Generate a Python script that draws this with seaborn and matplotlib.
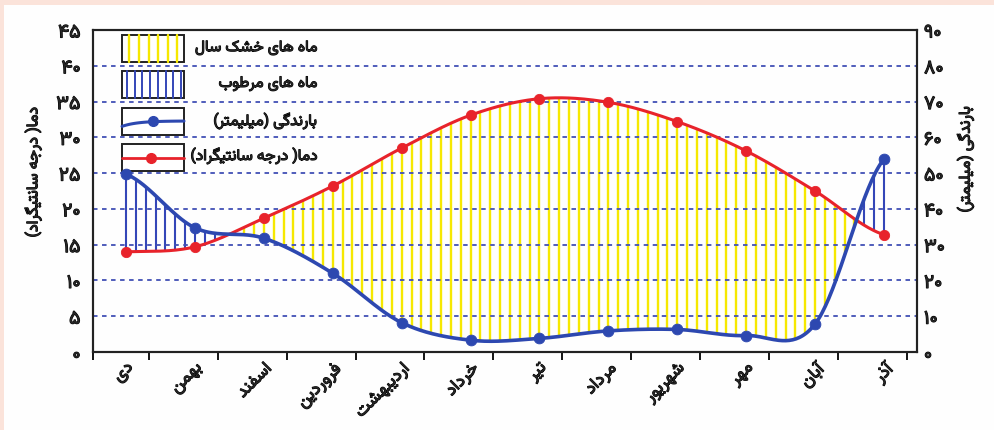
import numpy as np
import matplotlib
matplotlib.use("Agg")
import matplotlib.pyplot as plt
import matplotlib.patheffects as pe
from matplotlib.patches import Rectangle
import seaborn as sns

# monthly values (Persian calendar, starting at Dey)
months = ["دی", "بهمن", "اسفند", "فروردین", "اردیبهشت", "خرداد",
          "تیر", "مرداد", "شهریور", "مهر", "آبان", "آذر"]
temperature = [14.0, 14.7, 18.7, 23.2, 28.5, 33.1, 35.4, 34.9, 32.2, 28.1, 22.5, 16.4]
rainfall = [49.7, 34.7, 31.8, 22.0, 8.2, 3.3, 3.8, 5.9, 6.3, 4.6, 7.8, 53.9]
temp_ticks = list(range(0, 46, 5))
rain_ticks = list(range(0, 91, 10))
legend_labels = ["ماه های خشک سال", "ماه های مرطوب", "بارندگی (میلیمتر)", "دما( درجه سانتیگراد)"]
temp_label = "دما( درجه سانتیگراد)"
rain_label = "بارندگی (میلیمتر)"

# matplotlib has no arabic shaping: map letters to presentation forms, then reverse
FORMS = {
    "\u0622": ("\uFE81", "\uFE82", None, None),
    "\u0627": ("\uFE8D", "\uFE8E", None, None),
    "\u0628": ("\uFE8F", "\uFE90", "\uFE91", "\uFE92"),
    "\u062A": ("\uFE95", "\uFE96", "\uFE97", "\uFE98"),
    "\u062C": ("\uFE9D", "\uFE9E", "\uFE9F", "\uFEA0"),
    "\u062E": ("\uFEA5", "\uFEA6", "\uFEA7", "\uFEA8"),
    "\u062F": ("\uFEA9", "\uFEAA", None, None),
    "\u0630": ("\uFEAB", "\uFEAC", None, None),
    "\u0631": ("\uFEAD", "\uFEAE", None, None),
    "\u0632": ("\uFEAF", "\uFEB0", None, None),
    "\u0633": ("\uFEB1", "\uFEB2", "\uFEB3", "\uFEB4"),
    "\u0634": ("\uFEB5", "\uFEB6", "\uFEB7", "\uFEB8"),
    "\u0637": ("\uFEC1", "\uFEC2", "\uFEC3", "\uFEC4"),
    "\u0641": ("\uFED1", "\uFED2", "\uFED3", "\uFED4"),
    "\u0644": ("\uFEDD", "\uFEDE", "\uFEDF", "\uFEE0"),
    "\u0645": ("\uFEE1", "\uFEE2", "\uFEE3", "\uFEE4"),
    "\u0646": ("\uFEE5", "\uFEE6", "\uFEE7", "\uFEE8"),
    "\u0647": ("\uFEE9", "\uFEEA", "\uFEEB", "\uFEEC"),
    "\u0648": ("\uFEED", "\uFEEE", None, None),
    "\u06A9": ("\uFB8E", "\uFB8F", "\uFB90", "\uFB91"),
    "\u06AF": ("\uFB92", "\uFB93", "\uFB94", "\uFB95"),
    "\u06CC": ("\uFBFC", "\uFBFD", "\uFBFE", "\uFBFF"),
}


def fa(text):
    out = []
    for i, ch in enumerate(text):
        if ch not in FORMS:
            out.append(ch)
            continue
        iso, fin, ini, med = FORMS[ch]
        prev = text[i - 1] if i > 0 else ""
        nxt = text[i + 1] if i + 1 < len(text) else ""
        join_prev = prev in FORMS and FORMS[prev][2] is not None
        join_next = nxt in FORMS and ini is not None
        if join_prev and join_next:
            out.append(med)
        elif join_prev:
            out.append(fin)
        elif join_next:
            out.append(ini)
        else:
            out.append(iso)
    return "".join(reversed(out)).translate(str.maketrans("()", ")("))


def fa_num(v):
    return str(v).translate(str.maketrans("0123456789", "۰۱۲۳۴۵۶۷۸۹"))


def smooth(y, n=40):
    # catmull-rom through the monthly points, just for drawing the curve
    p = np.r_[y[0], y, y[-1]]
    xs, ys = [], []
    t = np.linspace(0, 1, n, endpoint=False)
    for i in range(len(y) - 1):
        p0, p1, p2, p3 = p[i], p[i + 1], p[i + 2], p[i + 3]
        ys.append(0.5 * (2 * p1 + (p2 - p0) * t + (2 * p0 - 5 * p1 + 4 * p2 - p3) * t ** 2
                         + (3 * p1 - p0 - 3 * p2 + p3) * t ** 3))
        xs.append(i + t)
    xs.append([len(y) - 1])
    ys.append([y[-1]])
    return np.concatenate(xs), np.concatenate(ys)


sns.set_theme(style="white")
plt.rcParams["font.family"] = ["Vazirmatn", "DejaVu Sans"]
bold = [pe.withStroke(linewidth=0.8, foreground="black")]

RED = "#e8232b"
BLUE = "#2d48b0"
YELLOW = "#f6e800"
HATCH_BLUE = "#3446b8"
GRID = "#4150b5"

fig = plt.figure(figsize=(9.95, 4.3), dpi=100, facecolor="#fefefe")
fig.add_artist(Rectangle((0, 1 - 5 / 430), 1, 5 / 430, transform=fig.transFigure, color="#fbe3da", lw=0))
fig.add_artist(Rectangle((0, 0), 4 / 995, 1, transform=fig.transFigure, color="#fbe3da", lw=0))

ax = fig.add_axes([0.0935, 0.1814, 0.8281, 0.7488])
ax.set_facecolor("#fefefe")
ax2 = ax.twinx()

x = np.arange(len(months))
xs_t, ys_t = smooth(np.array(temperature))
xs_r, ys_r = smooth(np.array(rainfall))

# hatching between the curves (rain is drawn on a 2:1 scale)
hx = np.linspace(0, len(months) - 1, 78)
ht = np.interp(hx, xs_t, ys_t)
hr = np.interp(hx, xs_r, ys_r) / 2
dry = ht > hr
ax.vlines(hx[dry], hr[dry], ht[dry], color=YELLOW, lw=1.7, zorder=1)
ax.vlines(hx[~dry], ht[~dry], hr[~dry], color=HATCH_BLUE, lw=1.5, zorder=1)

for v in temp_ticks[1:-1]:
    ax.axhline(v, color=GRID, ls=(0, (2.5, 2.5)), lw=1.3, zorder=2)

sns.lineplot(x=xs_t, y=ys_t, color=RED, lw=2.2, ax=ax, zorder=3)
sns.scatterplot(x=x, y=temperature, color=RED, s=55, edgecolor=RED, ax=ax, zorder=4)
sns.lineplot(x=xs_r, y=ys_r, color=BLUE, lw=2.6, ax=ax2, zorder=3)
sns.scatterplot(x=x, y=rainfall, color=BLUE, s=60, edgecolor=BLUE, ax=ax2, zorder=4)

ax.set_xlim(-0.48, 11.48)
ax.set_ylim(0, 45)
ax2.set_ylim(0, 90)

ax.set_yticks(temp_ticks)
ax.set_yticklabels([fa_num(v) for v in temp_ticks], fontsize=14, path_effects=bold)
ax2.set_yticks(rain_ticks)
ax2.set_yticklabels([fa_num(v) for v in rain_ticks], fontsize=14, path_effects=bold)
ax.tick_params(axis="y", length=0, pad=9)
ax2.tick_params(axis="y", length=0, pad=5)
ax.set_ylabel("")
ax2.set_ylabel("")

ax.set_xticks(x)
ax.set_xticklabels([fa(m) for m in months], rotation=45, ha="right", va="top",
                   rotation_mode="anchor", fontsize=12.5, path_effects=bold)
ax.set_xticks(np.r_[-0.48, x + 0.33], minor=True)
ax.tick_params(axis="x", which="major", length=0, pad=6)
ax.tick_params(axis="x", which="minor", length=6, width=1.3, color="black", bottom=True)

for a in (ax, ax2):
    for s in a.spines.values():
        s.set_color("#222222")
        s.set_linewidth(1.5)

fig.text(0.033, 0.60, fa(temp_label), rotation=90, ha="center", va="center",
         fontsize=11.5, path_effects=bold)
fig.text(0.970, 0.63, fa(rain_label), rotation=90, ha="center", va="center",
         fontsize=11.5, path_effects=bold)

# legend boxes in the top-left corner
bx0, bw, bh = 0.0352, 0.0752, 0.0839
rows = [0.9006, 0.7888, 0.6739, 0.5621]
text_y = [0.944, 0.832, 0.717, 0.609]
for r in rows:
    ax.add_patch(Rectangle((bx0, r), bw, bh, transform=ax.transAxes, fc="white",
                           ec="#222222", lw=1.4, zorder=5, clip_on=False))
for k in range(6):
    xx = bx0 + bw * (0.12 + 0.155 * k)
    ax.plot([xx, xx], [rows[0], rows[0] + bh], transform=ax.transAxes, color=YELLOW, lw=1.7, zorder=6)
for k in range(8):
    xx = bx0 + bw * (0.08 + 0.125 * k)
    ax.plot([xx, xx], [rows[1], rows[1] + bh], transform=ax.transAxes, color=HATCH_BLUE, lw=1.4, zorder=6)
lt = np.linspace(0, 1, 30)
ax.plot(bx0 + bw * lt, rows[2] + bh * (0.32 + 0.2 * (1 - np.exp(-lt * 4))), transform=ax.transAxes,
        color=BLUE, lw=2.2, zorder=6)
ax.plot([bx0 + bw * 0.5], [rows[2] + bh * 0.51], "o", transform=ax.transAxes, color=BLUE, ms=7, zorder=7)
ax.plot([bx0, bx0 + bw], [rows[3] + bh * 0.5] * 2, transform=ax.transAxes, color=RED, lw=2, zorder=6)
ax.plot([bx0 + bw * 0.46], [rows[3] + bh * 0.5], "o", transform=ax.transAxes, color=RED, ms=7, zorder=7)
for lab, ty in zip(legend_labels, text_y):
    ax.text(0.2718, ty, fa(lab), transform=ax.transAxes, ha="right", va="center",
            fontsize=11.2, path_effects=bold, zorder=7)

fig.savefig("out.png", dpi=100, facecolor=fig.get_facecolor())
